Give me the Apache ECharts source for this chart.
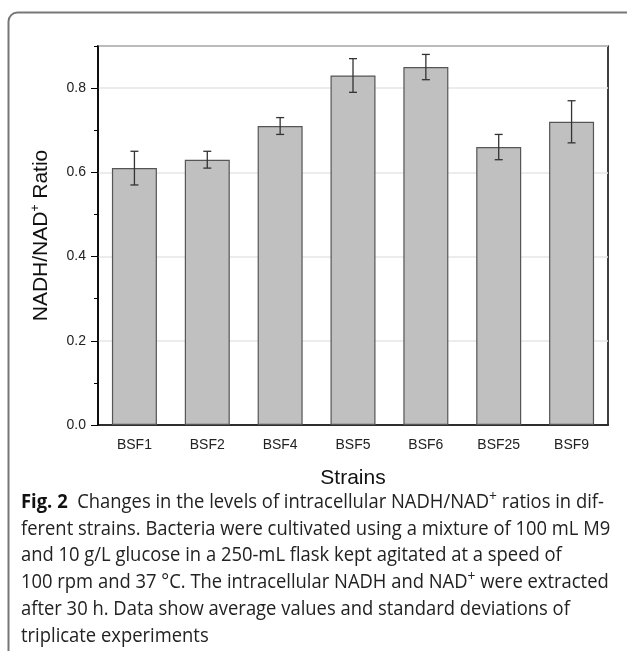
<!DOCTYPE html>
<html>
<head>
<meta charset="utf-8">
<script src="https://cdn.jsdelivr.net/npm/echarts@6/dist/echarts.min.js"></script>
<style>
  html, body { margin: 0; padding: 0; background: #fff; }
  #chart { width: 627px; height: 651px; }
</style>
</head>
<body>
<div id="chart"></div>
<script>
// strains on the x axis
var strains = ['BSF1', 'BSF2', 'BSF4', 'BSF5', 'BSF6', 'BSF25', 'BSF9'];
// mean NADH/NAD+ ratio
var ratios = [0.61, 0.63, 0.71, 0.83, 0.85, 0.66, 0.72];
// standard deviation
var errors = [0.04, 0.02, 0.02, 0.04, 0.03, 0.03, 0.05];
// y ticks shown
var yTicks = [0, 0.2, 0.4, 0.6, 0.8];

var captionLines = [
  '{b|Fig. 2}  Changes in the levels of intracellular NADH/NAD{sup|+} ratios in dif-',
  'ferent strains. Bacteria were cultivated using a mixture of 100 mL M9',
  'and 10 g/L glucose in a 250-mL flask kept agitated at a speed of',
  '100 rpm and 37 °C. The intracellular NADH and NAD{sup|+} were extracted',
  'after 30 h. Data show average values and standard deviations of',
  'triplicate experiments'
];

var myChart = echarts.init(document.getElementById('chart'));

var errData = [];
for (var i = 0; i < strains.length; i++) {
  errData.push([i, ratios[i] - errors[i], ratios[i] + errors[i]]);
}

// caption text + rounded frame
var graphics = [{
  type: 'rect',
  shape: { x: 8.5, y: 12.5, width: 700, height: 700, r: [9, 0, 0, 0] },
  style: { fill: 'none', stroke: '#777', lineWidth: 2 },
  silent: true
}];
for (var j = 0; j < captionLines.length; j++) {
  graphics.push({
    type: 'text',
    x: 21,
    y: 502 + j * 26.8,
    scaleX: 0.92,
    style: {
      text: captionLines[j],
      fontFamily: 'Open Sans',
      fontSize: 20,
      fill: '#222',
      verticalAlign: 'middle',
      rich: {
        b: { fontFamily: 'Open Sans', fontWeight: 'bold', fontSize: 20, fill: '#111' },
        sup: { fontFamily: 'Open Sans', fontSize: 15, padding: [0, 0, 11, 0], fill: '#222' }
      }
    }
  });
}

option = {
  animation: false,
  backgroundColor: '#fff',
  grid: {
    left: 98, right: 19, top: 46, bottom: 226,
    show: true, borderColor: '#000', borderWidth: 1.5,
    backgroundColor: 'transparent'
  },
  graphic: graphics,
  xAxis: {
    type: 'category',
    data: strains,
    name: 'Strains',
    nameLocation: 'middle',
    nameGap: 43,
    nameTextStyle: { fontFamily: 'Liberation Sans', fontSize: 21, color: '#111' },
    axisLine: { lineStyle: { color: '#000', width: 1.5 } },
    axisTick: { alignWithLabel: true, length: 6, lineStyle: { color: '#000' } },
    axisLabel: { fontFamily: 'Liberation Sans', fontSize: 14, color: '#222', margin: 13 }
  },
  yAxis: [{
    type: 'value',
    min: 0, max: 0.9, interval: 0.2,
    name: 'NADH/NAD{sup|+} Ratio',
    nameLocation: 'middle',
    nameGap: 45,
    nameTextStyle: {
      fontFamily: 'Liberation Sans', fontSize: 21, color: '#111',
      rich: { sup: { fontFamily: 'Liberation Sans', fontSize: 12, padding: [0, 0, 11, 0], color: '#111' } }
    },
    axisLine: { show: true, lineStyle: { color: '#000', width: 1.5 } },
    axisTick: { show: true, length: 7, lineStyle: { color: '#000' } },
    axisLabel: {
      showMaxLabel: false,
      fontFamily: 'Liberation Sans', fontSize: 14, color: '#222', margin: 12,
      formatter: function (v) { return yTicks.indexOf(Math.round(v * 10) / 10) >= 0 ? v.toFixed(1) : ''; }
    },
    splitLine: { show: true, lineStyle: { color: '#e6e6e6', width: 1.5 } }
  }, {
    // minor ticks
    type: 'value',
    position: 'left',
    min: 0, max: 0.9, interval: 0.1,
    axisLine: { show: false },
    axisTick: { show: true, length: 4, lineStyle: { color: '#000' } },
    axisLabel: { show: false },
    splitLine: { show: false }
  }],
  series: [{
    type: 'bar',
    data: ratios,
    barWidth: 45,
    itemStyle: { color: '#c0c0c0', borderColor: '#555', borderWidth: 1.2 },
    z: 2
  }, {
    type: 'custom',
    data: errData,
    z: 10,
    renderItem: function (params, api) {
      var lo = api.coord([api.value(0), api.value(1)]);
      var hi = api.coord([api.value(0), api.value(2)]);
      var hw = 4;
      var st = { stroke: '#333', lineWidth: 1.3 };
      return {
        type: 'group',
        children: [
          { type: 'line', shape: { x1: hi[0], y1: hi[1], x2: lo[0], y2: lo[1] }, style: st },
          { type: 'line', shape: { x1: hi[0] - hw, y1: hi[1], x2: hi[0] + hw, y2: hi[1] }, style: st },
          { type: 'line', shape: { x1: lo[0] - hw, y1: lo[1], x2: lo[0] + hw, y2: lo[1] }, style: st }
        ]
      };
    }
  }]
};

myChart.setOption(option);
</script>
</body>
</html>
